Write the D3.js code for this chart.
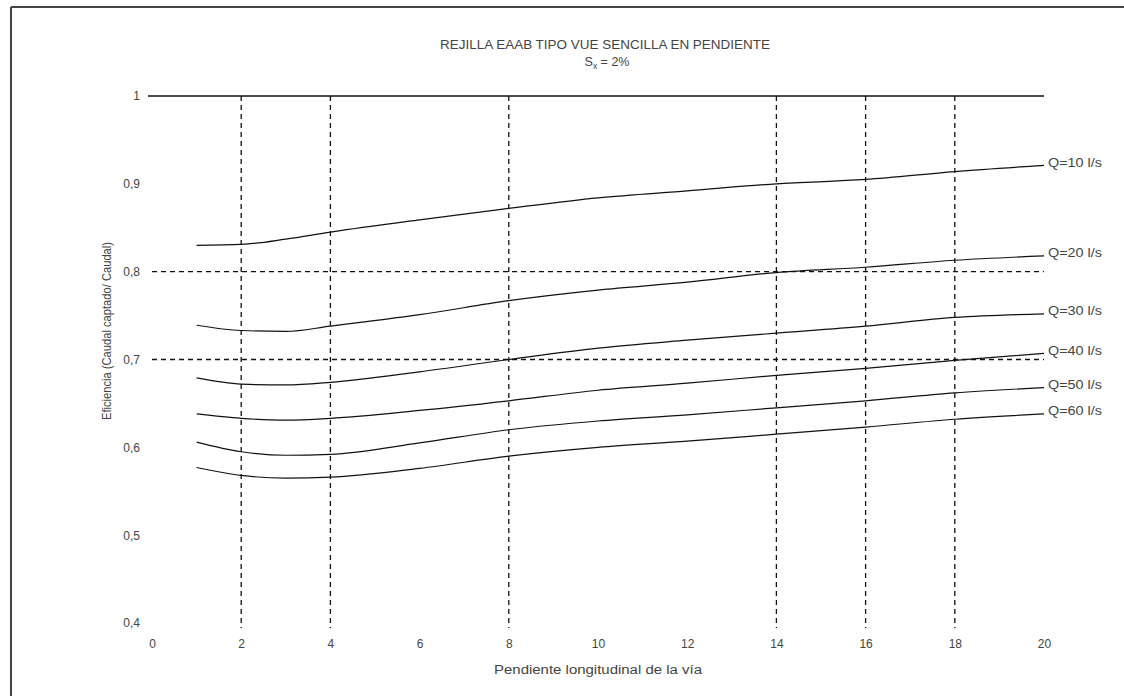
<!DOCTYPE html>
<html><head><meta charset="utf-8">
<script src="https://cdn.jsdelivr.net/npm/d3@7"></script>
<style>
html,body{margin:0;padding:0;background:#fff;}
svg{display:block;}
text{font-family:'Liberation Sans',Arial,sans-serif;fill:#444;}
</style></head>
<body><svg id="c" width="1124" height="696"></svg>
<script>
// ---- data ----
const slopes = [1, 2, 3, 4, 6, 8, 10, 12, 14, 16, 18, 20];
const q10 = [0.830, 0.831, 0.837, 0.845, 0.859, 0.872, 0.884, 0.892, 0.900, 0.905, 0.914, 0.921];
const q20 = [0.739, 0.733, 0.732, 0.738, 0.751, 0.767, 0.779, 0.788, 0.799, 0.805, 0.813, 0.818];
const q30 = [0.679, 0.672, 0.671, 0.674, 0.686, 0.700, 0.713, 0.722, 0.730, 0.738, 0.748, 0.752];
const q40 = [0.638, 0.633, 0.631, 0.633, 0.642, 0.653, 0.665, 0.673, 0.682, 0.690, 0.699, 0.707];
const q50 = [0.606, 0.595, 0.591, 0.592, 0.605, 0.620, 0.630, 0.637, 0.645, 0.653, 0.662, 0.668];
const q60 = [0.577, 0.568, 0.565, 0.566, 0.576, 0.590, 0.600, 0.607, 0.615, 0.623, 0.632, 0.638];
const seriesNames = ["Q=10 l/s", "Q=20 l/s", "Q=30 l/s", "Q=40 l/s", "Q=50 l/s", "Q=60 l/s"];
const xTicks = [0, 2, 4, 6, 8, 10, 12, 14, 16, 18, 20];
const yTicks = [0.4, 0.5, 0.6, 0.7, 0.8, 0.9, 1];
const yTickLabels = ["0,4", "0,5", "0,6", "0,7", "0,8", "0,9", "1"];
const xGridLines = [2, 4, 8, 14, 16, 18];
const yDashedLines = [0.7, 0.8];
const ySolidLines = [1];
const titleLine1 = "REJILLA EAAB TIPO VUE SENCILLA EN PENDIENTE";
const xTitle = "Pendiente longitudinal de la vía";
const yTitle = "Eficiencia (Caudal captado/ Caudal)";

// ---- chart ----
const svg = d3.select("#c");
const x = d3.scaleLinear().domain([0, 20]).range([152, 1044]);
const y = d3.scaleLinear().domain([0.4, 1]).range([623, 96]);
const FONT = "'Liberation Sans',Arial,sans-serif";

// frame (top + left)
svg.append("line").attr("x1", 11).attr("x2", 1124).attr("y1", 7).attr("y2", 7)
  .attr("stroke", "#444").attr("stroke-width", 2);
svg.append("line").attr("x1", 11).attr("x2", 11).attr("y1", 7).attr("y2", 696)
  .attr("stroke", "#444").attr("stroke-width", 2);

// title
svg.append("text").attr("x", 605).attr("y", 49).attr("text-anchor", "middle")
  .attr("font-size", 12.5).attr("textLength", 330).attr("lengthAdjust", "spacingAndGlyphs")
  .text(titleLine1);
const t2 = svg.append("text").attr("x", 607).attr("y", 66).attr("text-anchor", "middle").attr("font-size", 12.5);
t2.append("tspan").text("S");
t2.append("tspan").attr("font-size", 8.5).attr("dy", 3).text("x");
t2.append("tspan").attr("dy", -3).text(" = 2%");

// gridlines
svg.append("g").selectAll("line").data(xGridLines).join("line")
  .attr("x1", d => x(d)).attr("x2", d => x(d))
  .attr("y1", y(1)).attr("y2", 628)
  .attr("stroke", "#111").attr("stroke-width", 1.3).attr("stroke-dasharray", "5,4");
svg.append("g").selectAll("line").data(yDashedLines).join("line")
  .attr("x1", x(0)).attr("x2", x(20))
  .attr("y1", d => y(d)).attr("y2", d => y(d))
  .attr("stroke", "#111").attr("stroke-width", 1.3).attr("stroke-dasharray", "5,4");
svg.append("g").selectAll("line").data(ySolidLines).join("line")
  .attr("x1", 148).attr("x2", x(20))
  .attr("y1", d => y(d)).attr("y2", d => y(d))
  .attr("stroke", "#111").attr("stroke-width", 1.5);

// axes
const yAxis = d3.axisLeft(y).tickValues(yTicks).tickSize(0).tickPadding(12)
  .tickFormat((d, i) => yTickLabels[i]);
const gy = svg.append("g").attr("transform", `translate(${x(0)},0)`).call(yAxis);
gy.select(".domain").remove();
gy.selectAll("text").attr("font-size", 12).attr("fill", "#555").style("font-family", FONT);

const xAxis = d3.axisBottom(x).tickValues(xTicks).tickSize(0).tickPadding(11).tickFormat(d3.format("d"));
const gx = svg.append("g").attr("transform", `translate(0,628)`).call(xAxis);
gx.select(".domain").remove();
gx.selectAll("text").attr("font-size", 12).attr("fill", "#444").style("font-family", FONT);

// axis titles
svg.append("text").attr("x", 598).attr("y", 674).attr("text-anchor", "middle")
  .attr("font-size", 12.5).attr("textLength", 208).attr("lengthAdjust", "spacingAndGlyphs")
  .text(xTitle);
svg.append("text").attr("transform", "translate(111,331) rotate(-90)").attr("text-anchor", "middle")
  .attr("font-size", 12).attr("textLength", 178).attr("lengthAdjust", "spacingAndGlyphs")
  .text(yTitle);

// curves
const allSeries = [q10, q20, q30, q40, q50, q60];
const line = d3.line().x(d => x(d[0])).y(d => y(d[1])).curve(d3.curveMonotoneX);
allSeries.forEach((vals, i) => {
  const pts = slopes.map((s, j) => [s, vals[j]]);
  svg.append("path").attr("d", line(pts)).attr("fill", "none")
    .attr("stroke", "#111").attr("stroke-width", 1.2);
  svg.append("text").attr("x", x(20) + 4).attr("y", y(vals[vals.length - 1]) - 2)
    .attr("dominant-baseline", "middle").attr("font-size", 12).attr("fill", "#444")
    .attr("textLength", 54).attr("lengthAdjust", "spacingAndGlyphs")
    .text(seriesNames[i]);
});
</script></body></html>
